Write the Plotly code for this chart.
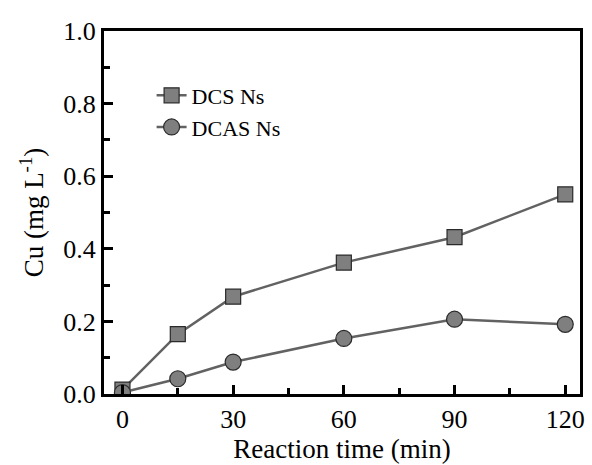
import plotly.graph_objects as go

time_min = [0, 15, 30, 60, 90, 120]
dcs_ns = [0.012, 0.165, 0.268, 0.362, 0.432, 0.550]
dcas_ns = [0.004, 0.042, 0.088, 0.153, 0.206, 0.192]

font_family = "Liberation Serif, Times New Roman, serif"
line_col = "#626262"
fill_col = "#7f7f7f"
edge_col = "#2a2a2a"

fig = go.Figure()
fig.add_trace(go.Scatter(
    x=time_min, y=dcs_ns, name="DCS Ns", mode="lines+markers",
    line=dict(color=line_col, width=2.5),
    marker=dict(symbol="square", size=15, color=fill_col,
                line=dict(color=edge_col, width=1.2)),
))
fig.add_trace(go.Scatter(
    x=time_min, y=dcas_ns, name="DCAS Ns", mode="lines+markers",
    line=dict(color=line_col, width=2.5),
    marker=dict(symbol="circle", size=16, color=fill_col,
                line=dict(color=edge_col, width=1.2)),
))

axis_common = dict(
    showline=True, linecolor="black", linewidth=3, mirror=True,
    ticks="inside", tickcolor="black", tickwidth=2.5, ticklen=9,
    showgrid=False, zeroline=False,
    tickfont=dict(family=font_family, size=26, color="black"),
)

fig.update_xaxes(
    range=[-5, 124], tickvals=[0, 30, 60, 90, 120],
    minor=dict(ticks="inside", tickvals=[15, 45, 75, 105], ticklen=6,
               tickwidth=2.5, tickcolor="black"),
    title=dict(text="Reaction time (min)",
               font=dict(family=font_family, size=27, color="black"),
               standoff=2),
    **axis_common,
)
fig.update_yaxes(
    range=[0, 1.0], tickvals=[0, 0.2, 0.4, 0.6, 0.8, 1.0],
    ticktext=["0.0", "0.2", "0.4", "0.6", "0.8", "1.0"],
    minor=dict(ticks="inside", tickvals=[0.1, 0.3, 0.5, 0.7, 0.9], ticklen=6,
               tickwidth=2.5, tickcolor="black"),
    title=dict(text="Cu (mg L<sup>-1</sup>)",
               font=dict(family=font_family, size=27, color="black"),
               standoff=12),
    **axis_common,
)

fig.update_layout(
    width=592, height=465,
    margin=dict(l=104, r=7, t=31, b=71),
    plot_bgcolor="white", paper_bgcolor="white",
    font=dict(family=font_family, color="black"),
    legend=dict(x=0.1, y=0.88, xanchor="left", yanchor="top",
                bgcolor="rgba(0,0,0,0)", itemwidth=30,
                font=dict(family=font_family, size=22, color="black"),
                tracegroupgap=0),
    showlegend=True,
)

fig.write_html("out.html")
